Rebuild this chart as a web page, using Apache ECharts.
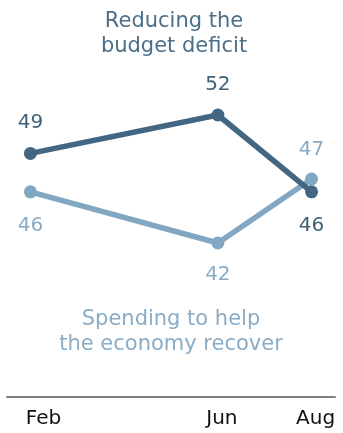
<!DOCTYPE html>
<html>
<head>
<meta charset="utf-8">
<script src="https://cdn.jsdelivr.net/npm/echarts@6/dist/echarts.min.js"></script>
<style>
  html, body { margin: 0; padding: 0; background: #fff; }
  #chart { width: 343px; height: 433px; }
</style>
</head>
<body>
<div id="chart"></div>
<script>
// Survey months, placed on a month-number axis so the spacing follows the calendar
const months = ['Feb', 'Jun', 'Aug'];
const monthNumbers = [2, 6, 8];
const deficitValues = [49, 52, 46];   // Reducing the budget deficit
const spendingValues = [46, 42, 47];  // Spending to help the economy recover
const deficitName = 'Reducing the\nbudget deficit';
const spendingName = 'Spending to help\nthe economy recover';

const DARK = '#436682';
const LIGHT = '#82a7c2';
const FONT = 'DejaVu Sans';

const monthLabel = {};
monthNumbers.forEach((m, i) => { monthLabel[m] = months[i]; });
// small rightward nudges of the month labels
const labelShift = { Feb: 26, Jun: 8, Aug: 8 };

function pairs(vals) {
  return vals.map((v, i) => [monthNumbers[i], v]);
}

const chart = echarts.init(document.getElementById('chart'), null, { renderer: 'canvas' });

chart.setOption({
  animation: false,
  backgroundColor: '#fff',
  grid: { left: 7, right: 8, top: 12.6, bottom: 36.4, containLabel: false },
  xAxis: {
    type: 'value',
    min: 1.5,
    max: 8.5,
    interval: 0.5,
    splitLine: { show: false },
    axisTick: { show: false },
    axisLine: { show: true, lineStyle: { color: '#808080', width: 2 } },
    axisLabel: {
      show: true,
      margin: 12,
      showMinLabel: false,
      showMaxLabel: false,
      color: '#111',
      fontFamily: FONT,
      fontSize: 20,
      formatter: function (v) {
        const name = monthLabel[v];
        if (!name) return '';
        return '{' + name + '|' + name + '}';
      },
      rich: {
        Feb: { padding: [0, 0, 0, labelShift.Feb], fontSize: 20, fontFamily: FONT, color: '#111' },
        Jun: { padding: [0, 0, 0, labelShift.Jun], fontSize: 20, fontFamily: FONT, color: '#111' },
        Aug: { padding: [0, 0, 0, labelShift.Aug], fontSize: 20, fontFamily: FONT, color: '#111' }
      }
    }
  },
  yAxis: {
    type: 'value',
    min: 30,
    max: 60,
    show: false,
    splitLine: { show: false }
  },
  graphic: [
    {
      type: 'text',
      top: 9,
      x: 174,
      style: {
        text: deficitName,
        fill: '#4b6f89',
        font: '21px "DejaVu Sans"',
        textAlign: 'center',
        lineHeight: 25
      }
    },
    {
      type: 'text',
      top: 307,
      x: 171,
      style: {
        text: spendingName,
        fill: '#8aacc6',
        font: '21px "DejaVu Sans"',
        textAlign: 'center',
        lineHeight: 25
      }
    }
  ],
  series: [
    {
      name: 'Spending to help the economy recover',
      type: 'line',
      data: pairs(spendingValues).map((p, i) => ({
        value: p,
        label: { position: i === 2 ? 'top' : 'bottom', distance: i === 2 ? 13 : (i === 1 ? 15 : 17) }
      })),
      symbol: 'circle',
      symbolSize: 13,
      lineStyle: { color: LIGHT, width: 5.5 },
      itemStyle: { color: LIGHT },
      label: {
        show: true,
        color: '#88abc5',
        fontFamily: FONT,
        fontSize: 20,
        formatter: p => p.value[1]
      },
      z: 2
    },
    {
      name: 'Reducing the budget deficit',
      type: 'line',
      data: pairs(deficitValues).map((p, i) => ({
        value: p,
        label: { position: i === 2 ? 'bottom' : 'top', distance: i === 2 ? 17 : 14 }
      })),
      symbol: 'circle',
      symbolSize: 13,
      lineStyle: { color: DARK, width: 5.5 },
      itemStyle: { color: DARK },
      label: {
        show: true,
        color: '#3f6078',
        fontFamily: FONT,
        fontSize: 20,
        formatter: p => p.value[1]
      },
      z: 3
    }
  ]
});
</script>
</body>
</html>
